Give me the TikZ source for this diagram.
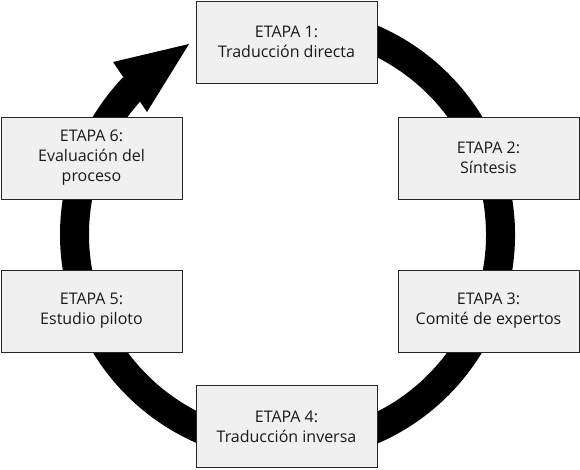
\documentclass[tikz,border=0pt]{standalone}
\usepackage{fontspec}
\setmainfont{Open Sans}
\definecolor{boxfill}{RGB}{240,240,240}
\definecolor{txt}{RGB}{25,25,25}
\begin{document}
\begin{tikzpicture}[x=1pt,y=1pt,
  stagebox/.style={draw=black!85, line width=0.9pt, fill=boxfill,
    minimum width=181pt, minimum height=82pt, align=center, text=txt,
    font=\fontsize{16}{20}\selectfont, inner sep=0pt}]
\useasboundingbox (0,0) rectangle (580,469);
\coordinate (c) at (287.5,234.5);
\coordinate (tip) at (189,425);
\coordinate (hl) at (113,407);
\coordinate (hr) at (147,357);
% ring
\draw[line width=29pt] ([shift={(100:213)}]c) arc[start angle=100, end angle=-223.7, radius=213];
% arrow head
\fill (tip) -- (hl) -- (hr) -- cycle;
% stages
\node[stagebox] (e1) at (286.5,427) {ETAPA 1:\\Traducción directa};
\node[stagebox] (e2) at (488.5,311) {ETAPA 2:\\Síntesis};
\node[stagebox] (e3) at (488.5,158) {ETAPA 3:\\Comité de expertos};
\node[stagebox] (e4) at (286.5,42.5) {ETAPA 4:\\Traducción inversa};
\node[stagebox] (e5) at (91.5,158) {ETAPA 5:\\Estudio piloto};
\node[stagebox] (e6) at (91.5,311) {ETAPA 6:\\Evaluación del\\proceso};
\end{tikzpicture}
\end{document}
